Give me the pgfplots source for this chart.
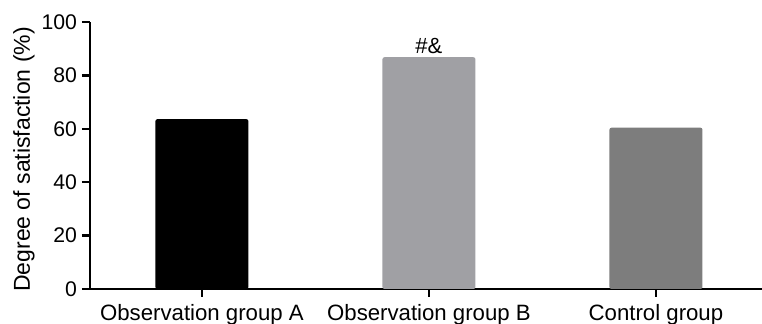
\documentclass[border=0pt]{standalone}
\usepackage{pgfplots}
\pgfplotsset{compat=1.18}
\usepackage{fontspec}
\setmainfont{Liberation Sans}
\definecolor{barA}{HTML}{000000}
\definecolor{barB}{HTML}{A0A0A4}
\definecolor{barC}{HTML}{7D7D7D}
\begin{document}
\begin{tikzpicture}
\begin{axis}[
  name=ax,
  scale only axis,
  width=336pt, height=133.5pt,
  xmin=-0.493, xmax=2.467,
  ymin=0, ymax=100,
  ytick={0,20,40,60,80,100},
  xtick={0,1,2},
  xticklabels={Observation group A,Observation group B,Control group},
  axis x line*=bottom, axis y line*=left,
  axis line style={-, line width=1.3pt},
  tick style={line width=1.2pt, black},
  tick align=outside,
  major tick length=4pt,
  /pgf/number format/assume math mode=true,
  yticklabel style={font=\fontsize{10.6}{12}\selectfont, xshift=1pt},
  xticklabel style={font=\fontsize{11.1}{13}\selectfont, yshift=-0.4pt},
]
\addplot[ybar, bar width=46.5pt, fill=barA, draw=none, rounded corners=1pt] coordinates {(0,63.6)};
\addplot[ybar, bar width=46.5pt, fill=barB, draw=none, rounded corners=1pt] coordinates {(1,86.8)};
\addplot[ybar, bar width=46.5pt, fill=barC, draw=none, rounded corners=1pt] coordinates {(2,60.4)};
\node[anchor=south, inner sep=1.5pt, font=\fontsize{11}{13}\selectfont] at (axis cs:1,86.8) {\#\&};
\end{axis}
\node[rotate=90, anchor=north, inner sep=0pt, font=\fontsize{11.5}{13}\selectfont] at ([xshift=-38.6pt, yshift=-2pt]ax.west) {Degree of satisfaction (\%)};
\pgfresetboundingbox
\path[use as bounding box] ([xshift=-45pt,yshift=-17.5pt]ax.south west) rectangle ([yshift=11pt]ax.north east);
\end{tikzpicture}
\end{document}
